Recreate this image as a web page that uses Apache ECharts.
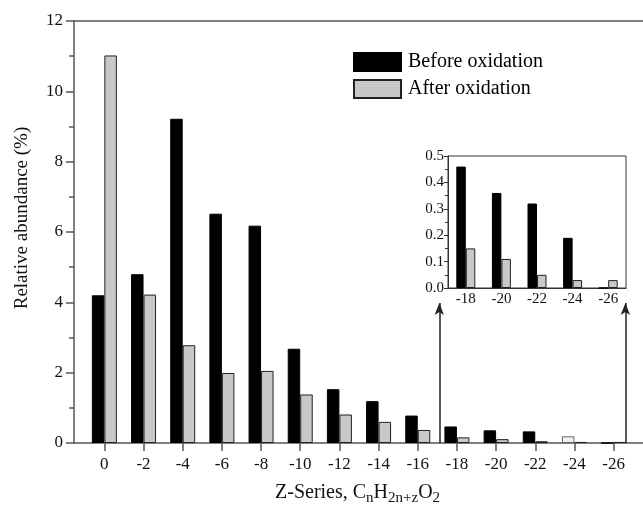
<!DOCTYPE html>
<html>
<head>
<meta charset="utf-8">
<script src="https://cdn.jsdelivr.net/npm/echarts@6/dist/echarts.min.js"></script>
<style>html,body{margin:0;padding:0;background:#fff}#c{width:643px;height:512px}</style>
</head>
<body>
<div id="c"></div>
<script>
// Z-series (x positions) for the main chart
var zSeries = [0, -2, -4, -6, -8, -10, -12, -14, -16, -18, -20, -22, -24, -26];
var beforeMain = [4.2, 4.8, 9.22, 6.52, 6.18, 2.68, 1.53, 1.19, 0.78, 0.47, 0.36, 0.33, 0.19, 0];
var afterMain  = [11.02, 4.22, 2.78, 1.99, 2.05, 1.38, 0.81, 0.6, 0.37, 0.16, 0.11, 0.05, 0.03, 0.03];
// inset
var insetCats = ['-18', '-20', '-22', '-24', '-26'];
var beforeInset = [0.46, 0.36, 0.32, 0.19, 0];
var afterInset  = [0.15, 0.11, 0.05, 0.03, 0.03];
var zTicks = [0, -2, -4, -6, -8, -10, -12, -14, -16, -18, -20, -22, -24, -26];

var FONT = 'Liberation Serif';
var AX = '#555';
var GRAY = '#c8c8c8';

function pairs(xs, ys) { return xs.map(function (x, i) { return [x, ys[i]]; }); }

var chart = echarts.init(document.getElementById('c'), null, {renderer: 'canvas'});
var beforeData = pairs(zSeries, beforeMain).map(function (p) {
  if (p[0] === -24) return {value: p, itemStyle: {color: '#f2f2f2', borderColor: '#666', borderWidth: 1}};
  return p;
});

chart.setOption({
  animation: false,
  backgroundColor: '#fff',
  textStyle: {fontFamily: FONT},
  grid: [
    {left: 74, top: 21, right: 0, height: 422, show: false},
    {left: 448, top: 156, width: 178, height: 132, show: true, borderColor: '#333', borderWidth: 1, backgroundColor: '#fff'}
  ],
  legend: {
    data: ['Before oxidation', 'After oxidation'],
    orient: 'vertical', left: 353, top: 52, padding: 0,
    itemWidth: 47, itemHeight: 18, itemGap: 7,
    icon: 'rect', selectedMode: false,
    textStyle: {fontFamily: FONT, fontSize: 20, color: '#000', padding: [0, 0, 0, 2]}
  },
  xAxis: [
    {
      gridIndex: 0, type: 'value', inverse: true, min: -27.5, max: 1.55,
      splitLine: {show: false},
      axisLine: {onZero: false, lineStyle: {color: AX, width: 1.5}},
      axisTick: {show: true, customValues: zTicks, length: 8, inside: false, lineStyle: {color: AX, width: 1.5}},
      axisLabel: {customValues: zTicks, fontFamily: FONT, fontSize: 17, color: '#111', margin: 13,
        formatter: function (v) { return String(v); }}
    },
    {
      gridIndex: 1, type: 'category', data: insetCats, boundaryGap: true,
      axisLine: {lineStyle: {color: '#333', width: 1}},
      axisTick: {show: false},
      axisLabel: {fontFamily: FONT, fontSize: 15, color: '#111', margin: 4}
    },
    {
      gridIndex: 0, type: 'value', position: 'top', inverse: true, min: -27.5, max: 1.55,
      splitLine: {show: false},
      axisLine: {show: true, onZero: false, lineStyle: {color: AX, width: 1.5}},
      axisTick: {show: false}, axisLabel: {show: false}
    }
  ],
  yAxis: [
    {
      gridIndex: 0, type: 'value', min: 0, max: 12, interval: 2,
      splitLine: {show: false},
      axisLine: {show: true, onZero: false, lineStyle: {color: AX, width: 1.5}},
      axisTick: {show: true, length: 8, lineStyle: {color: AX, width: 1.5}},
      minorTick: {show: true, splitNumber: 2, length: 5, lineStyle: {color: AX, width: 1.5}},
      axisLabel: {fontFamily: FONT, fontSize: 17, color: '#111', margin: 11}
    },
    {
      gridIndex: 1, type: 'value', min: 0, max: 0.5, interval: 0.1,
      splitLine: {show: false},
      axisLine: {show: true, onZero: false, lineStyle: {color: '#333', width: 1}},
      axisTick: {show: true, length: 4, lineStyle: {color: '#333'}},
      minorTick: {show: true, splitNumber: 2, length: 3, lineStyle: {color: '#333'}},
      axisLabel: {fontFamily: FONT, fontSize: 15, color: '#111', margin: 4,
        formatter: function (v) { return v.toFixed(1); }}
    }
  ],
  series: [
    {
      name: 'Before oxidation', type: 'bar', xAxisIndex: 0, yAxisIndex: 0,
      data: beforeData, barWidth: 12.5, barGap: '0%',
      itemStyle: {color: '#000', borderColor: '#000', borderWidth: 1}
    },
    {
      name: 'After oxidation', type: 'bar', xAxisIndex: 0, yAxisIndex: 0,
      data: pairs(zSeries, afterMain), barWidth: 12.5, barGap: '0%',
      itemStyle: {color: GRAY, borderColor: '#222', borderWidth: 1}
    },
    {
      name: 'arrows', type: 'line', xAxisIndex: 0, yAxisIndex: 0, data: [],
      markLine: {
        silent: true, symbol: ['none', 'arrow'], symbolSize: [7, 12],
        label: {show: false},
        lineStyle: {color: '#222', width: 1.5, type: 'solid'},
        data: [
          [{coord: [-17.1, 0]}, {coord: [-17.1, 3.98]}],
          [{coord: [-26.6, 0]}, {coord: [-26.6, 3.98]}]
        ]
      }
    },
    {
      name: 'Before oxidation', type: 'bar', xAxisIndex: 1, yAxisIndex: 1,
      data: beforeInset, barWidth: 9.5, barGap: '0%',
      itemStyle: {color: '#000', borderColor: '#000', borderWidth: 1}
    },
    {
      name: 'After oxidation', type: 'bar', xAxisIndex: 1, yAxisIndex: 1,
      data: afterInset, barWidth: 9.5, barGap: '0%',
      itemStyle: {color: GRAY, borderColor: '#222', borderWidth: 1}
    }
  ],
  graphic: [
    {
      type: 'text', x: 22, y: 218, rotation: Math.PI / 2,
      style: {text: 'Relative abundance (%)', font: '19px "Liberation Serif"', fill: '#111',
        textAlign: 'center', textVerticalAlign: 'middle'}
    },
    {
      type: 'text', left: 275, top: 483,
      style: {
        text: 'Z-Series, C{s|n}H{s|2n+z}O{s|2}',
        font: '20px "Liberation Serif"', fill: '#111',
        rich: {s: {fontFamily: FONT, fontSize: 15, fill: '#111', verticalAlign: 'bottom', padding: [11, 0, 0, 0]}}
      }
    }
  ]
});
</script>
</body>
</html>
